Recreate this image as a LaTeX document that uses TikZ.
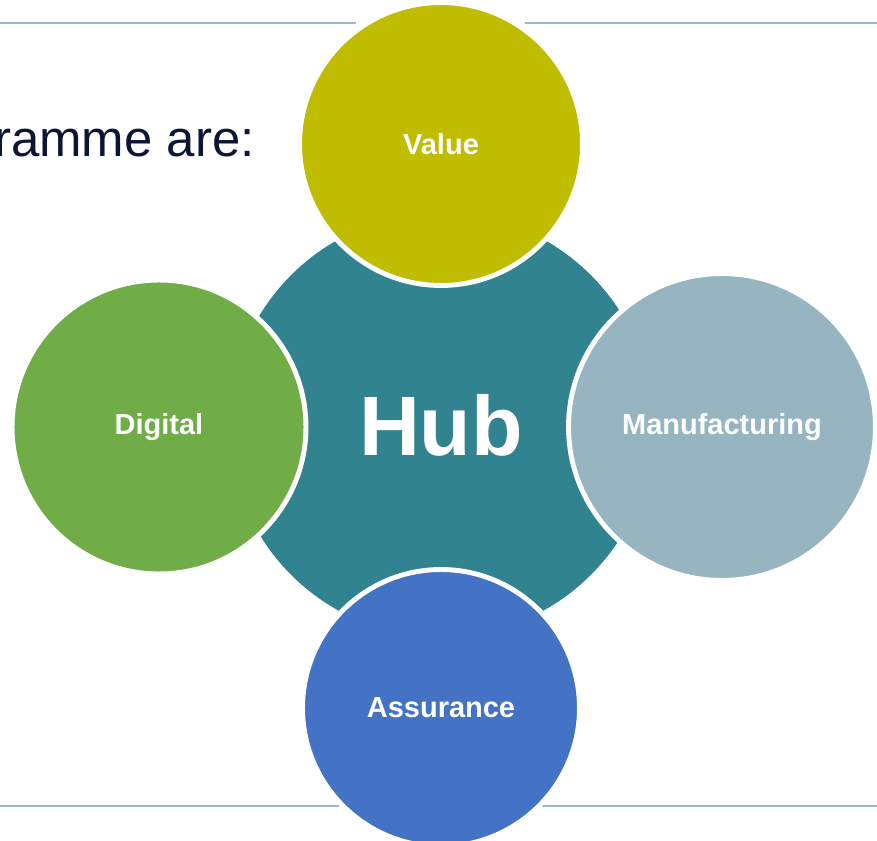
\documentclass[tikz,border=0pt]{standalone}
\usepackage{fontspec}
\setmainfont{Liberation Sans}
\definecolor{valuecol}{HTML}{C0BC00}
\definecolor{digitalcol}{HTML}{70AD47}
\definecolor{manucol}{HTML}{97B5C0}
\definecolor{assurecol}{HTML}{4472C4}
\definecolor{hubcol}{HTML}{31838F}
\definecolor{rulecol}{HTML}{9DBAC4}
\definecolor{titlecol}{HTML}{0C1633}

\begin{document}
\begin{tikzpicture}[x=0.02cm, y=-0.02cm,
  petal/.style={circle, draw=white, line width=2.8pt, inner sep=0pt, text=white, font=\bfseries\fontsize{16.5}{18}\selectfont},
  rule/.style={rulecol, line width=1.2pt}]
\useasboundingbox (0,0) rectangle (877,841);

% Rules
\draw[rule] (0,23) -- (356,23);
\draw[rule] (525,23) -- (877,23);
\draw[rule] (0,806) -- (339,806);
\draw[rule] (542,806) -- (877,806);

% Heading (cut off at the left)
\node[anchor=base east, inner sep=0pt, text=titlecol, font=\fontsize{29}{34}\selectfont] (head) at (255,157) {ramme are:};

% Hub
\node[circle, fill=hubcol, minimum size=8.48cm, inner sep=0pt, text=white, font=\bfseries\fontsize{48}{56}\selectfont] (hub) at (441,425) {Hub};

% Outer circles
\node[petal, fill=valuecol, minimum size=5.66cm] (value) at (441,144) {Value};
\node[petal, fill=digitalcol, minimum size=5.88cm] (digital) at (159,427) {Digital};
\node[petal, fill=manucol, minimum size=6.14cm] (manu) at (722,427) {Manufacturing};
\node[petal, fill=assurecol, minimum size=5.54cm] (assure) at (441,708) {Assurance};

\end{tikzpicture}
\end{document}
